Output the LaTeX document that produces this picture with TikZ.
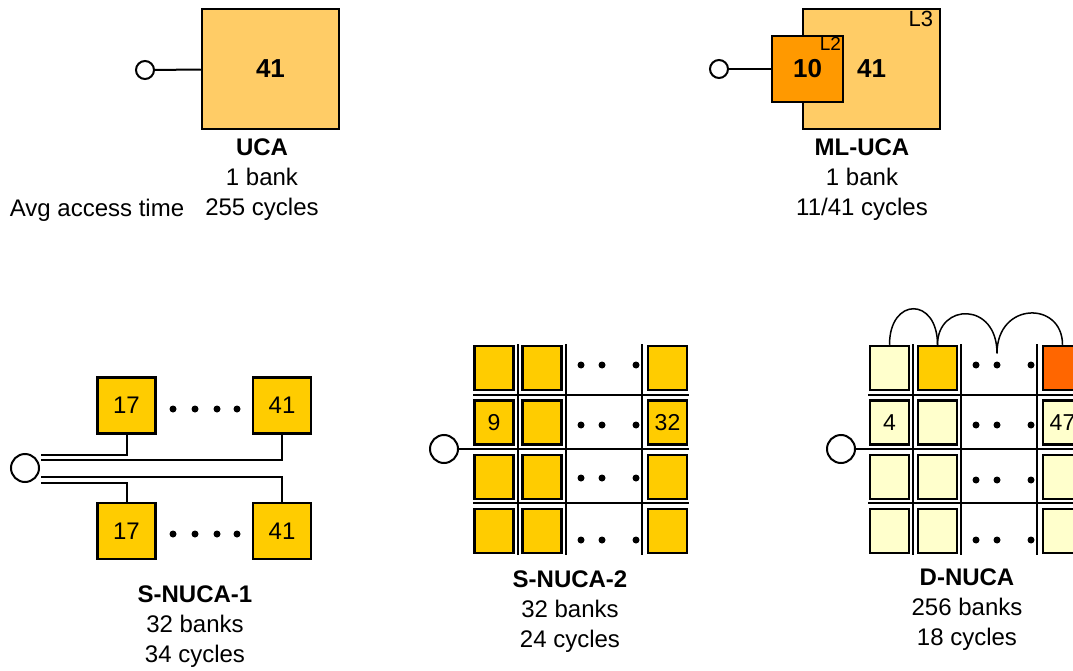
\documentclass[tikz,border=0pt]{standalone}
\usepackage{fontspec}
\setmainfont{Liberation Sans}
\usepackage{xcolor}
\usepackage{tikz}
\usetikzlibrary{positioning}
\definecolor{ucafill}{HTML}{FFCC66}
\definecolor{ltwofill}{HTML}{FF9900}
\definecolor{snucafill}{HTML}{FFCC00}
\definecolor{dnucafill}{HTML}{FFFFCC}
\definecolor{hotfill}{HTML}{FF6600}
\tikzset{
  bigbank/.style={
    rectangle,
    draw=black,
    line width=2.5pt,
    fill=ucafill,
    inner sep=0pt,
    font=\fontsize{26}{30}\selectfont\bfseries,
  },
  sbank/.style={
    rectangle,
    draw=black,
    line width=2.5pt,
    fill=snucafill,
    minimum width=39pt,
    minimum height=44pt,
    inner sep=0pt,
    font=\fontsize{23}{26}\selectfont,
  },
  wbank/.style={
    sbank,
    minimum width=58pt,
    minimum height=56pt,
    font=\fontsize{24}{26}\selectfont,
  },
  dbank/.style={
    sbank,
    fill=dnucafill,
  },
  port/.style={
    circle,
    draw=black,
    line width=2pt,
    fill=white,
    inner sep=0pt,
  },
  dotmark/.style={
    circle,
    fill=black,
    inner sep=0pt,
    minimum size=7pt,
  },
  wire/.style={line width=2pt},
  gridline/.style={line width=2.4pt},
  hop/.style={line width=1.5pt},
  caption/.style={
    align=center,
    font=\fontsize{24}{30}\selectfont,
  }
}

\begin{document}
\begin{tikzpicture}[x=1pt, y=-1pt]
  \useasboundingbox (0,0) rectangle (1073,671);
  \clip (0,0) rectangle (1073,671);

  % UCA
  \node [port, minimum size=18pt] (ucaport) at (145,70) {};
  \node [bigbank, minimum width=137pt, minimum height=120pt] (uca) at (270.5,69) {41};
  \draw [wire] (ucaport) -- (uca);
  \node [caption] (ucatxt) at (262,180) {\textbf{UCA}\\1 bank\\255 cycles};
  \node [caption] (avgtxt) at (97,210) {Avg access time};

  % ML-UCA: L2 in front of L3
  \node [bigbank, minimum width=137pt, minimum height=120pt] (lthree) at (871.5,69) {41};
  \node [bigbank, fill=ltwofill, minimum width=71pt, minimum height=66pt] (ltwo) at (807.5,69) {10};
  \node [inner sep=0pt, anchor=north east, font=\fontsize{22}{24}\selectfont]
        (lthreetag) at ([xshift=-8pt, yshift=-3pt]lthree.north east) {L3};
  \node [inner sep=0pt, anchor=north east, font=\fontsize{19}{20}\selectfont]
        (ltwotag) at ([xshift=-3pt, yshift=-2pt]ltwo.north east) {L2};
  \node [port, minimum size=18pt] (mlport) at (719,69) {};
  \draw [wire] (mlport) -- (ltwo);
  \node [caption] (mltxt) at (862,180) {\textbf{ML-UCA}\\1 bank\\11/41 cycles};

  % S-NUCA-1
  \node [port, minimum size=28pt] (sonport) at (25,468) {};
  \node [wbank] (sontl) at (126.5,405.5) {17};
  \node [wbank] (sontr) at (282,405.5) {41};
  \node [wbank] (sonbl) at (126.5,531) {17};
  \node [wbank] (sonbr) at (282,531) {41};
  \node [dotmark] (sontd1) at (173,409) {};
  \node [dotmark] (sontd2) at (195,409) {};
  \node [dotmark] (sontd3) at (217,409) {};
  \node [dotmark] (sontd4) at (237,409) {};
  \node [dotmark] (sonbd1) at (173,534) {};
  \node [dotmark] (sonbd2) at (195,534) {};
  \node [dotmark] (sonbd3) at (217,534) {};
  \node [dotmark] (sonbd4) at (237,534) {};
  \draw [wire] ([xshift=1pt, yshift=13pt]sonport.east) -| (sontl.south);
  \draw [wire] ([xshift=1pt, yshift=8pt]sonport.east)  -| (sontr.south);
  \draw [wire] ([xshift=1pt, yshift=-9pt]sonport.east) -| (sonbr.north);
  \draw [wire] ([xshift=1pt, yshift=-15pt]sonport.east) -| (sonbl.north);
  \node [caption] (sontxt) at (195,627) {\textbf{S-NUCA-1}\\32 banks\\34 cycles};

  % S-NUCA-2 grid
  \draw [gridline] (518,344) -- (518,555);
  \draw [gridline] (566,344) -- (566,555);
  \draw [gridline] (642,344) -- (642,555);
  \draw [gridline] (473,395) -- (689,395);
  \draw [gridline] (473,503) -- (689,503);
  \node [port, minimum size=28pt] (stwport) at (444,449) {};
  \coordinate (stwend) at (689,449);
  \draw [gridline] (stwport) -- (stwend);

  \node [sbank] (stwa1) at (494,368) {};
  \node [sbank] (stwa2) at (542,368) {};
  \node [sbank] (stwa4) at (667.5,368) {};
  \node [sbank] (stwb1) at (494,422.5) {9};
  \node [sbank] (stwb2) at (542,422.5) {};
  \node [sbank] (stwb4) at (667.5,422.5) {32};
  \node [sbank] (stwc1) at (494,477) {};
  \node [sbank] (stwc2) at (542,477) {};
  \node [sbank] (stwc4) at (667.5,477) {};
  \node [sbank] (stwd1) at (494,531) {};
  \node [sbank] (stwd2) at (542,531) {};
  \node [sbank] (stwd4) at (667.5,531) {};
  \node [dotmark] (stwad1) at (581,365) {};
  \node [dotmark] (stwad2) at (602,365) {};
  \node [dotmark] (stwad3) at (636,365) {};
  \node [dotmark] (stwbd1) at (581,425) {};
  \node [dotmark] (stwbd2) at (602,425) {};
  \node [dotmark] (stwbd3) at (636,425) {};
  \node [dotmark] (stwcd1) at (581,478) {};
  \node [dotmark] (stwcd2) at (602,478) {};
  \node [dotmark] (stwcd3) at (636,478) {};
  \node [dotmark] (stwdd1) at (581,540) {};
  \node [dotmark] (stwdd2) at (602,540) {};
  \node [dotmark] (stwdd3) at (636,540) {};
  \node [caption] (stwtxt) at (570,612) {\textbf{S-NUCA-2}\\32 banks\\24 cycles};

  % D-NUCA grid
  \draw [gridline] (913,344) -- (913,555);
  \draw [gridline] (961,344) -- (961,555);
  \draw [gridline] (1037,344) -- (1037,555);
  \draw [gridline] (868,395) -- (1080,395);
  \draw [gridline] (868,503) -- (1080,503);
  \node [port, minimum size=28pt] (dport) at (841,449) {};
  \coordinate (dend) at (1080,449);
  \draw [gridline] (dport) -- (dend);

  \node [dbank] (da1) at (889.5,368) {};
  \node [dbank, fill=snucafill] (da2) at (937.5,368) {};
  \node [dbank, fill=hotfill] (da4) at (1062.5,368) {};
  \node [dbank] (db1) at (889.5,422.5) {4};
  \node [dbank] (db2) at (937.5,422.5) {};
  \node [dbank] (db4) at (1062.5,422.5) {47};
  \node [dbank] (dc1) at (889.5,477) {};
  \node [dbank] (dc2) at (937.5,477) {};
  \node [dbank] (dc4) at (1062.5,477) {};
  \node [dbank] (dd1) at (889.5,531) {};
  \node [dbank] (dd2) at (937.5,531) {};
  \node [dbank] (dd4) at (1062.5,531) {};
  \node [dotmark] (dad1) at (976,365) {};
  \node [dotmark] (dad2) at (997,365) {};
  \node [dotmark] (dad3) at (1031,365) {};
  \node [dotmark] (dbd1) at (976,425) {};
  \node [dotmark] (dbd2) at (997,425) {};
  \node [dotmark] (dbd3) at (1031,425) {};
  \node [dotmark] (dcd1) at (976,480) {};
  \node [dotmark] (dcd2) at (997,480) {};
  \node [dotmark] (dcd3) at (1031,480) {};
  \node [dotmark] (ddd1) at (976,540) {};
  \node [dotmark] (ddd2) at (997,540) {};
  \node [dotmark] (ddd3) at (1031,540) {};

  % migration hops
  \coordinate (dhop) at ([yshift=8pt]dad2.north);
  \draw [hop] (da1.north) .. controls +(0,-48) and +(0,-48) .. (da2.north);
  \draw [hop] (da2.north) .. controls +(0,-42) and +(0,-52) .. (dhop);
  \draw [hop] (dhop) .. controls +(0,-52) and +(0,-44) .. (da4.north);
  \node [caption] (dtxt) at (967,610) {\textbf{D-NUCA}\\256 banks\\18 cycles};
\end{tikzpicture}
\end{document}
